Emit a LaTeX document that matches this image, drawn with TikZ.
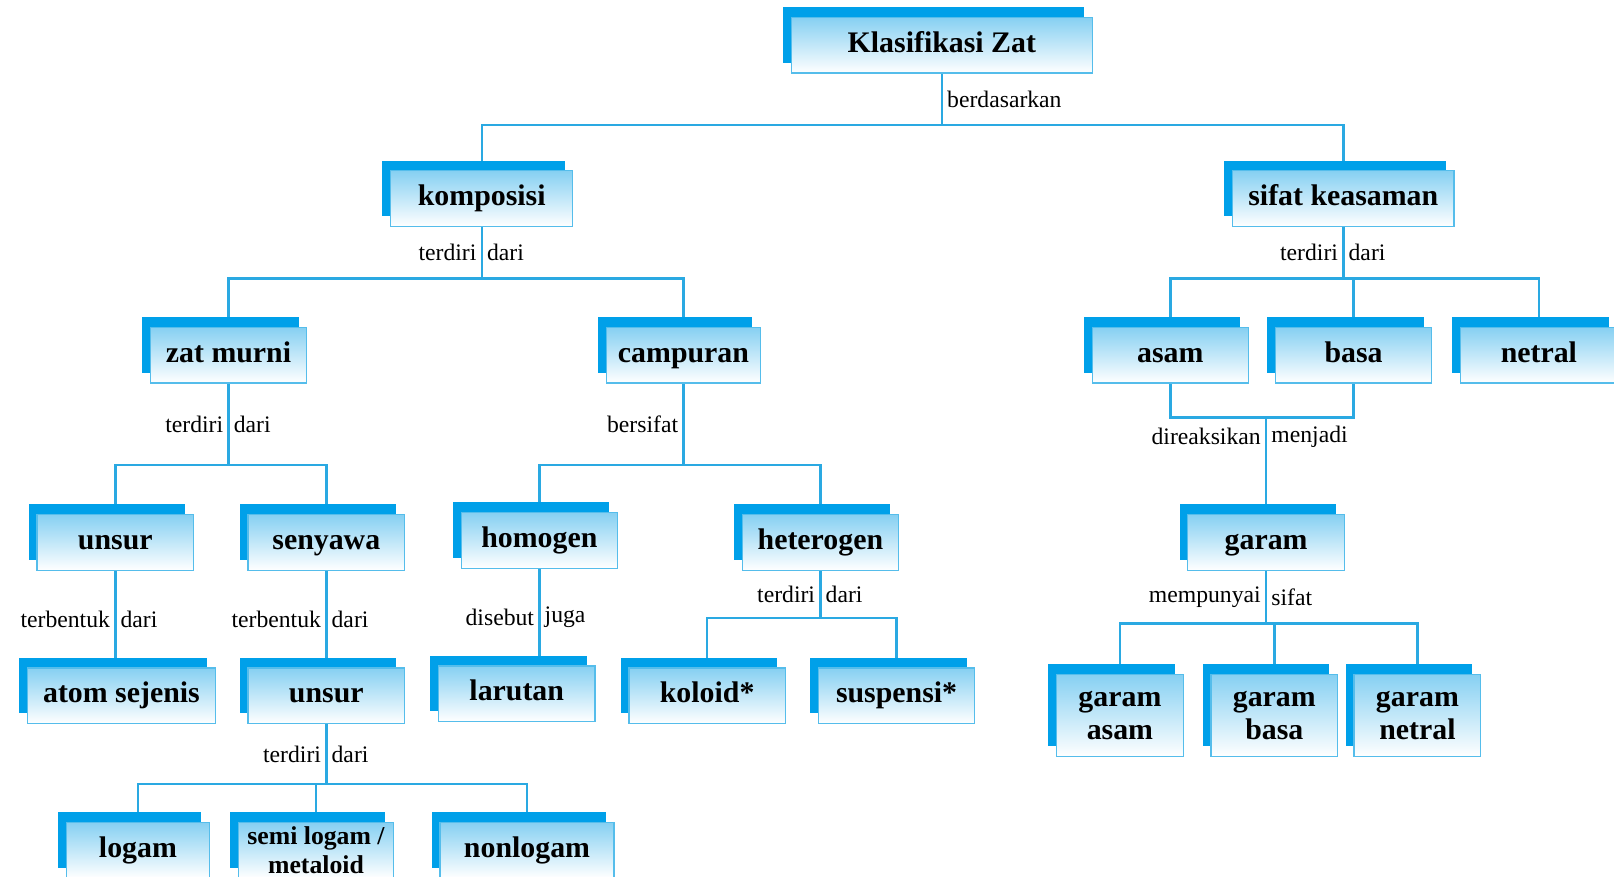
\documentclass[tikz,border=0pt]{standalone}
\usepackage{fontspec}
\setmainfont{Liberation Serif}
\usetikzlibrary{backgrounds}
\definecolor{zatback}{HTML}{00A0E9}
\definecolor{zatline}{HTML}{2AA9E2}
\definecolor{zatedge}{HTML}{55BDEB}
\definecolor{zatlight}{HTML}{86D0F2}

\begin{document}
\begin{tikzpicture}[x=1pt,y=-1pt,
  zat/.style={draw=zatedge,line width=1.2pt,top color=zatlight,bottom color=white,
              minimum width=152pt,minimum height=54pt,inner sep=0pt,align=center,
              text height=20pt,text depth=6.5pt,
              font=\bfseries\fontsize{29}{32}\selectfont,
              preaction={fill=zatback,draw=none,
                         transform canvas={xshift=-8pt,yshift=10pt}}},
  zattwo/.style={zat,text height={},text depth={}},
  conn/.style={draw=zatline,line width=2.4pt},
  lbl/.style={font=\fontsize{23}{25}\selectfont,inner sep=4pt}]
  \useasboundingbox (0,0) rectangle (1568,852);
  % level 0-1
  \node[zat,minimum width=292pt] (klas) at (915,44) {Klasifikasi Zat};
  \node[zat,minimum width=177pt] (komposisi) at (468,193) {komposisi};
  \node[zat,minimum width=215pt] (sifat) at (1305,193) {sifat keasaman};
  % level 2
  \node[zat] (zatmurni) at (222,345) {zat murni};
  \node[zat,minimum width=150pt] (campuran) at (664,345) {campuran};
  \node[zat] (asam) at (1137,345) {asam};
  \node[zat] (basa) at (1315,345) {basa};
  \node[zat] (netral) at (1495,345) {netral};
  % level 3
  \node[zat] (unsur) at (112,527) {unsur};
  \node[zat] (senyawa) at (317,527) {senyawa};
  \node[zat] (homogen) at (524,525) {homogen};
  \node[zat] (heterogen) at (797,527) {heterogen};
  \node[zat] (garam) at (1230,527) {garam};
  % level 4
  \node[zat,minimum width=183pt] (atom) at (118,676) {atom sejenis};
  \node[zat] (unsurb) at (317,676) {unsur};
  \node[zat] (larutan) at (502,674) {larutan};
  \node[zat] (koloid) at (687,676) {koloid*};
  \node[zat] (suspensi) at (871,676) {suspensi*};
  \node[zattwo,minimum width=123pt,minimum height=80pt] (garamasam) at (1088,695) {garam\\asam};
  \node[zattwo,minimum width=123pt,minimum height=80pt] (garambasa) at (1238,695) {garam\\basa};
  \node[zattwo,minimum width=123pt,minimum height=80pt] (garamnetral) at (1377,695) {garam\\netral};
  % level 5
  \node[zat,minimum width=139pt] (logam) at (134,826) {logam};
  \node[zattwo,minimum width=151pt,font=\bfseries\fontsize{25}{28}\selectfont] (semilogam) at (307,826) {semi logam /\\metaloid};
  \node[zat,minimum width=169pt] (nonlogam) at (512,826) {nonlogam};

  \begin{scope}[on background layer]
    \draw[conn] (klas.south) -- node[lbl,right]{berdasarkan} ++(0,50) coordinate (b0);
    \draw[conn] (komposisi.north) |- (b0) -| (sifat.north);
    \draw[conn] (komposisi.south) -- node[lbl,left]{terdiri} node[lbl,right]{dari} ++(0,50) coordinate (b1);
    \draw[conn] (zatmurni.north) |- (b1) -| (campuran.north);
    \draw[conn] (sifat.south) -- node[lbl,left]{terdiri} node[lbl,right]{dari} ++(0,50) coordinate (b2);
    \draw[conn] (asam.north) |- (b2) -| (netral.north);
    \draw[conn] (basa.north) |- (b2);
    \draw[conn] (zatmurni.south) -- node[lbl,left]{terdiri} node[lbl,right]{dari} ++(0,79) coordinate (b3);
    \draw[conn] (unsur.north) |- (b3) -| (senyawa.north);
    \draw[conn] (campuran.south) -- node[lbl,left]{bersifat} ++(0,79) coordinate (b4);
    \draw[conn] (homogen.north) |- (b4) -| (heterogen.north);
    \draw[conn] (asam.south) -- ++(0,33) -| (basa.south);
    \draw[conn] (garam.north) -- node[lbl,left,pos=0.8]{direaksikan} node[lbl,right,pos=0.8]{menjadi} ++(0,-94);
    \draw[conn] (unsur.south) -- node[lbl,left]{terbentuk} node[lbl,right]{dari} (unsur.south |- atom.north);
    \draw[conn] (senyawa.south) -- node[lbl,left]{terbentuk} node[lbl,right]{dari} (senyawa.south |- unsurb.north);
    \draw[conn] (homogen.south) -- node[lbl,left]{disebut} node[lbl,right]{juga} (homogen.south |- larutan.north);
    \draw[conn] (heterogen.south) -- node[lbl,left]{terdiri} node[lbl,right]{dari} ++(0,46) coordinate (b5);
    \draw[conn] (koloid.north) |- (b5) -| (suspensi.north);
    \draw[conn] (garam.south) -- node[lbl,left]{mempunyai} node[lbl,right]{sifat} ++(0,51) coordinate (b6);
    \draw[conn] (garamasam.north) |- (b6) -| (garamnetral.north);
    \draw[conn] (garambasa.north) |- (b6);
    \draw[conn] (unsurb.south) -- node[lbl,left]{terdiri} node[lbl,right]{dari} ++(0,58) coordinate (b7);
    \draw[conn] (logam.north) |- (b7) -| (nonlogam.north);
    \draw[conn] (semilogam.north) |- (b7);
  \end{scope}
\end{tikzpicture}
\end{document}
